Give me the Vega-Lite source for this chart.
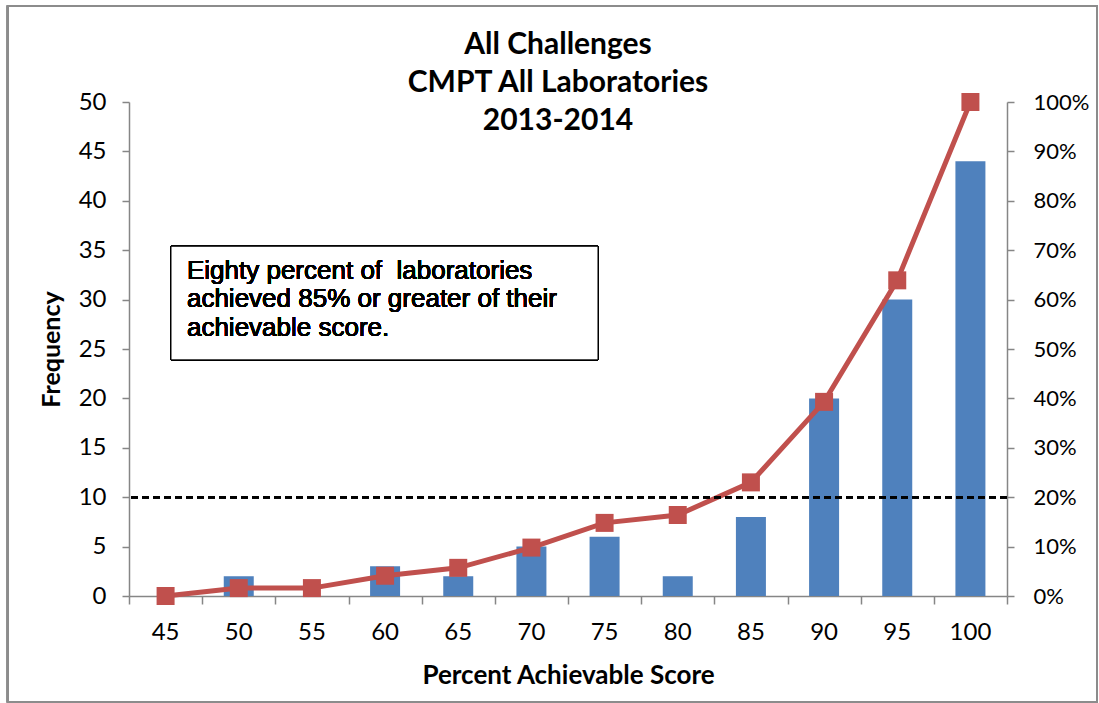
{
  "$schema": "https://vega.github.io/schema/vega-lite/v6.json",
  "width": 878,
  "height": 494,
  "autosize": {"type": "none"},
  "padding": {"left": 129, "top": 102, "right": 92, "bottom": 107},
  "background": "white",
  "config": {"view": {"stroke": null}, "font": "Lato"},
  "title": {
    "text": ["All Challenges", "CMPT All Laboratories", "2013-2014"],
    "font": "Lato",
    "fontSize": 30,
    "fontWeight": "bold",
    "lineHeight": 38,
    "anchor": "middle",
    "frame": "group",
    "dx": -10,
    "offset": -131,
    "color": "black"
  },
  "data": {
    "values": [
      {"score": 45, "frequency": 0, "cumulative": 0},
      {"score": 50, "frequency": 2, "cumulative": 1.6},
      {"score": 55, "frequency": 0, "cumulative": 1.6},
      {"score": 60, "frequency": 3, "cumulative": 4.1},
      {"score": 65, "frequency": 2, "cumulative": 5.7},
      {"score": 70, "frequency": 5, "cumulative": 9.8},
      {"score": 75, "frequency": 6, "cumulative": 14.8},
      {"score": 80, "frequency": 2, "cumulative": 16.4},
      {"score": 85, "frequency": 8, "cumulative": 23.0},
      {"score": 90, "frequency": 20, "cumulative": 39.3},
      {"score": 95, "frequency": 30, "cumulative": 63.9},
      {"score": 100, "frequency": 44, "cumulative": 100}
    ]
  },
  "layer": [
    {
      "encoding": {
        "x": {
          "field": "score",
          "type": "ordinal",
          "scale": {"type": "band", "paddingInner": 0.59, "paddingOuter": 0.295},
          "axis": {
            "title": "Percent Achievable Score",
            "titleFont": "Lato",
            "titleFontSize": 26,
            "titleFontWeight": "bold",
            "titleColor": "black",
            "titlePadding": 18,
            "labelAngle": 0,
            "labelFont": "Lato",
            "labelFontSize": 24,
            "labelColor": "black",
            "labelPadding": 24,
            "ticks": false,
            "domainColor": "#868686",
            "domainWidth": 1.5,
            "grid": false
          }
        }
      },
      "layer": [
        {
          "mark": {"type": "bar", "color": "#4F81BD"},
          "encoding": {
            "y": {
              "field": "frequency",
              "type": "quantitative",
              "scale": {"domain": [0, 50], "nice": false},
              "axis": {
                "title": "Frequency",
                "values": [0, 5, 10, 15, 20, 25, 30, 35, 40, 45, 50],
                "grid": false,
                "tickSize": 7,
                "tickColor": "#868686",
                "tickWidth": 1.5,
                "domainColor": "#868686",
                "domainWidth": 1.5,
                "labelFont": "Lato",
                "labelFontSize": 24,
                "labelColor": "black",
                "labelPadding": 16,
                "titleFont": "Lato",
                "titleFontSize": 25,
                "titleFontWeight": "bold",
                "titleColor": "black",
                "titlePadding": 14
              }
            }
          }
        },
        {
          "encoding": {
            "y": {
              "field": "cumulative",
              "type": "quantitative",
              "scale": {"domain": [0, 100], "nice": false},
              "axis": {
                "orient": "right",
                "title": null,
                "values": [0, 10, 20, 30, 40, 50, 60, 70, 80, 90, 100],
                "labelExpr": "datum.value + '%'",
                "grid": false,
                "tickSize": 7,
                "tickColor": "#868686",
                "tickWidth": 1.5,
                "domainColor": "#868686",
                "domainWidth": 1.5,
                "labelFont": "Lato",
                "labelFontSize": 22,
                "labelColor": "black",
                "labelPadding": 19
              }
            }
          },
          "layer": [
            {"mark": {"type": "line", "color": "#C0504D", "strokeWidth": 5}},
            {"mark": {"type": "point", "shape": "square", "filled": true, "size": 324, "color": "#C0504D", "opacity": 1}}
          ]
        }
      ],
      "resolve": {"scale": {"y": "independent"}}
    },
    {
      "layer": [
        {
          "mark": {"type": "rule", "strokeDash": [7, 4], "strokeWidth": 2, "color": "black"},
          "encoding": {
            "y": {"datum": 10, "type": "quantitative", "scale": {"domain": [0, 50], "nice": false}, "axis": null}
          }
        },
        {
          "mark": {"type": "rect", "fill": null, "fillOpacity": 0, "stroke": "#8C8C8C", "strokeWidth": 1.5},
          "encoding": {
            "x": {
              "datum": 34.2,
              "type": "quantitative",
              "scale": {"domain": [42.5, 102.5], "nice": false, "zero": false},
              "axis": {
                "orient": "bottom",
                "values": [42.5, 47.5, 52.5, 57.5, 62.5, 67.5, 72.5, 77.5, 82.5, 87.5, 92.5, 97.5, 102.5],
                "labels": false,
                "domain": false,
                "ticks": true,
                "tickSize": 8,
                "tickColor": "#868686",
                "tickWidth": 1.5,
                "grid": false,
                "title": null
              }
            },
            "x2": {"datum": 108.65},
            "y": {"datum": 59.7, "type": "quantitative"},
            "y2": {"datum": -10.7}
          }
        },
        {
          "mark": {"type": "rect", "fill": "white", "stroke": "black", "strokeWidth": 1},
          "encoding": {
            "x": {
              "datum": 45.37,
              "type": "quantitative",
              "axis": {
                "orient": "bottom",
                "values": [42.5, 47.5, 52.5, 57.5, 62.5, 67.5, 72.5, 77.5, 82.5, 87.5, 92.5, 97.5, 102.5],
                "labels": false,
                "domain": false,
                "ticks": true,
                "tickSize": 8,
                "tickColor": "#868686",
                "tickWidth": 1.5,
                "grid": false,
                "title": null
              }
            },
            "x2": {"datum": 74.55},
            "y": {"datum": 35.4, "type": "quantitative"},
            "y2": {"datum": 23.9}
          }
        },
        {
          "mark": {"type": "text", "align": "left", "baseline": "middle", "font": "Liberation Sans", "fontSize": 26, "lineHeight": 28.5, "lineBreak": "\n", "color": "black"},
          "encoding": {
            "x": {
              "datum": 46.46,
              "type": "quantitative",
              "axis": {
                "orient": "bottom",
                "values": [42.5, 47.5, 52.5, 57.5, 62.5, 67.5, 72.5, 77.5, 82.5, 87.5, 92.5, 97.5, 102.5],
                "labels": false,
                "domain": false,
                "ticks": true,
                "tickSize": 8,
                "tickColor": "#868686",
                "tickWidth": 1.5,
                "grid": false,
                "title": null
              }
            },
            "y": {"datum": 32.9, "type": "quantitative"},
            "text": {"value": "Eighty percent of\u00a0 laboratories\nachieved 85% or greater of their\nachievable score."}
          }
        }
      ]
    }
  ],
  "resolve": {"scale": {"x": "independent", "y": "independent"}}
}
